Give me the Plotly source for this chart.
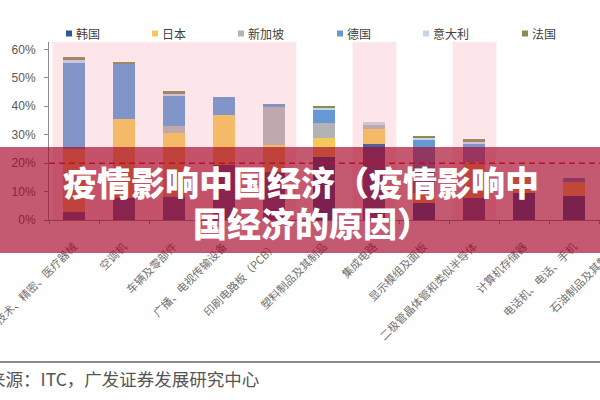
import plotly.graph_objects as go

# ---------------- data ----------------
categories = [
    "光学、技术、精密、医疗器械", "空调机", "车辆及零部件", "广播、电视传输设备",
    "印刷电路板（PCB）", "塑料制品及其制品", "集成电路", "显示模组及面板",
    "二极管晶体管和类似半导体", "计算机存储器", "电话机、电话、手机",
]
offscreen_category = "石油制品及其制品"

series_names = ["韩国", "日本", "新加坡", "德国", "意大利", "法国"]
korea     = [2.9, 7.7, 8.0, 19.5, 17.0, 22.0, 26.8, 5.9, 7.6, 9.4, 8.6]
japan     = [22.1, 27.9, 22.5, 17.5, 9.4, 7.0, 5.1, 3.5, 12.9, 6.1, 4.7]
singapore = [0.0, 0.0, 2.4, 0.0, 13.5, 5.0, 1.5, 0.0, 0.0, 0.0, 0.0]
germany   = [30.2, 19.4, 10.8, 6.1, 0.8, 4.7, 0.0, 19.0, 6.3, 0.0, 1.4]
italy     = [1.1, 0.0, 0.7, 0.0, 0.0, 0.6, 1.2, 0.4, 0.8, 0.0, 0.0]
france    = [1.0, 0.4, 1.1, 0.0, 0.0, 0.9, 0.0, 0.8, 0.8, 0.0, 0.0]

highlighted = [0, 1, 2, 3, 4, 6, 8]   # category indices with pink highlight
threshold = 20                        # dashed reference line (%)

y_ticks = [0, 10, 20, 30, 40, 50, 60]
y_tick_labels = [f"{v}%" for v in y_ticks]
title_line1 = "疫情影响中国经济（疫情影响中"
title_line2 = "国经济的原因）"
source_text = "数据来源：ITC，广发证券发展研究中心"

# ---------------- styling ----------------
colors = ["#2a5a9a", "#f5c85c", "#b3b3b3", "#6699d4", "#c6d4ea", "#8d8a55"]
W, H = 600, 400
ML, MR, MT, MB = 49, 0, 42, 180
PW, PH = W - ML - MR, H - MT - MB


def px_x(px):
    return (px - ML) / PW


def px_y(py):
    return (H - MB - py) / PH


fig = go.Figure()
for name, vals, col in zip(series_names, [korea, japan, singapore, germany, italy, france], colors):
    fig.add_trace(go.Bar(
        x=categories, y=vals, name=name, marker=dict(color=col, line=dict(width=0)),
        showlegend=False,
    ))

shapes = []
# pink highlight overlays (contiguous runs)
runs = []
for i in highlighted:
    if runs and runs[-1][1] == i - 1:
        runs[-1][1] = i
    else:
        runs.append([i, i])
for a, b in runs:
    shapes.append(dict(type="rect", xref="x", yref="paper", x0=a - 0.43, x1=b + 0.45,
                       y0=0, y1=1, fillcolor="rgba(240,130,150,0.2)", line=dict(width=0),
                       layer="above"))
# dashed threshold line
shapes.append(dict(type="line", xref="paper", yref="y", x0=0, x1=1, y0=threshold, y1=threshold,
                   line=dict(color="#e02a2a", width=1.5, dash="6px,4px"), layer="above"))
# bottom separator line
shapes.append(dict(type="line", xref="paper", yref="paper", x0=px_x(0), x1=1,
                   y0=px_y(362), y1=px_y(362), line=dict(color="#8c8c8c", width=2)))
# legend squares
annotations = []
lx = 69
for name, col in zip(series_names, colors):
    shapes.append(dict(type="rect", xref="paper", yref="paper",
                       x0=px_x(lx - 3), x1=px_x(lx + 3), y0=px_y(36.5), y1=px_y(30.5),
                       fillcolor=col, line=dict(width=0)))
    annotations.append(dict(text=name, xref="paper", yref="paper", x=px_x(lx + 5), y=px_y(33.5),
                            xanchor="left", yanchor="middle", showarrow=False,
                            font=dict(family="Noto Sans CJK SC", size=12, color="#404040")))
    lx += 60 + 13 * len(name)
# red banner overlay
shapes.append(dict(type="rect", xref="paper", yref="paper", x0=px_x(-2), x1=px_x(602),
                   y0=px_y(253), y1=px_y(147), fillcolor="rgba(165,4,40,0.66)",
                   line=dict(width=0), layer="above"))

# off-screen category label (partially visible)
annotations.append(dict(text=offscreen_category, xref="paper", x=px_x(ML + 50 * (len(categories) + 0.5) - 2),
                        yref="paper", y=px_y(239), xanchor="right", yanchor="top", textangle=-45,
                        showarrow=False, font=dict(family="Noto Sans CJK SC", size=11, color="#707070")))
# source
annotations.append(dict(text=source_text, xref="paper", yref="paper", x=px_x(-49), y=px_y(378),
                        xanchor="left", yanchor="middle", showarrow=False,
                        font=dict(family="Noto Sans CJK SC", size=17.5, color="#555555")))
# banner title
annotations.append(dict(text=title_line1, xref="paper", yref="paper", x=px_x(301), y=px_y(181),
                        xanchor="center", yanchor="middle", showarrow=False,
                        font=dict(family="Noto Sans CJK SC", size=34, color="white", weight=900)))
annotations.append(dict(text=title_line2, xref="paper", yref="paper", x=px_x(191), y=px_y(222),
                        xanchor="left", yanchor="middle", showarrow=False,
                        font=dict(family="Noto Sans CJK SC", size=34, color="white", weight=900)))

fig.update_layout(
    template="none",
    width=W, height=H,
    margin=dict(l=ML, r=MR, t=MT, b=MB, pad=0),
    barmode="stack", bargap=0.56,
    paper_bgcolor="white", plot_bgcolor="white",
    shapes=shapes, annotations=annotations,
    showlegend=False,
    xaxis=dict(
        range=[-0.5, 10.52], showline=True, linecolor="#8c8c8c", linewidth=1,
        ticks="outside", tickson="boundaries", ticklen=3, tickcolor="#8c8c8c",
        tickangle=-45, showgrid=False, automargin=False, zeroline=False,
        ticklabelstandoff=15,
        tickfont=dict(family="Noto Sans CJK SC", size=11, color="#707070"),
    ),
    yaxis=dict(
        range=[0, 62.6], tickvals=y_ticks, ticktext=y_tick_labels, showline=True,
        linecolor="#8c8c8c", linewidth=1, ticks="outside", ticklen=4, tickcolor="#8c8c8c",
        showgrid=False, zeroline=False, automargin=False, ticklabelstandoff=6,
        tickfont=dict(family="Liberation Sans", size=12, color="#595959"),
    ),
)

fig.write_html("out.html", config={"displayModeBar": False})
